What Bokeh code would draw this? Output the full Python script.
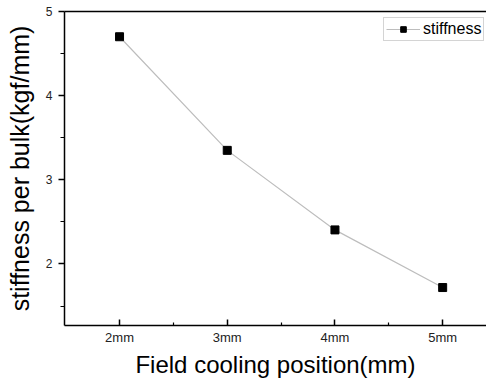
from bokeh.plotting import figure
from bokeh.models import FixedTicker, Range1d, Legend, LegendItem, LinearAxis
from bokeh.embed import file_html
from bokeh.resources import INLINE

positions = [2, 3, 4, 5]
tick_labels = ["2mm", "3mm", "4mm", "5mm"]
stiffness = [4.70, 3.35, 2.405, 1.72]

FONT = "Liberation Sans"

p = figure(width=486, height=380, output_backend="svg", toolbar_location=None,
           x_range=Range1d(1.489, 5.407), y_range=Range1d(1.269, 5.0),
           min_border_left=64, min_border_right=0, min_border_top=11, min_border_bottom=54)
p.background_fill_color = "white"
p.border_fill_color = "white"
p.xgrid.visible = False
p.ygrid.visible = False
p.outline_line_color = None

ln = p.line(positions, stiffness, line_color="#bdbdbd", line_width=1.2)
mk = p.scatter(positions, stiffness, marker="square", size=8, fill_color="black", line_color="black")

xa = p.below[0]
ya = p.left[0]

# x axis
xa.ticker = FixedTicker(ticks=positions, minor_ticks=[2.5, 3.5, 4.5])
xa.major_label_overrides = {pos: lab for pos, lab in zip(positions, tick_labels)}
xa.major_tick_in = 6
xa.major_tick_out = 0
xa.minor_tick_in = 3
xa.minor_tick_out = 0
xa.axis_line_width = 1.5
xa.major_tick_line_width = 1.5
xa.minor_tick_line_width = 1.2
xa.major_label_text_font = FONT
xa.major_label_text_font_size = "13px"
xa.major_label_text_color = "#222222"
xa.major_label_standoff = 4
xa.axis_label = "Field cooling position(mm)"
xa.axis_label_text_font = FONT
xa.axis_label_text_font_size = "24px"
xa.axis_label_text_font_style = "normal"
xa.axis_label_text_color = "black"
xa.axis_label_standoff = 3

# y axis
ya.ticker = FixedTicker(ticks=[2, 3, 4, 5], minor_ticks=[1.5, 2.5, 3.5, 4.5])
ya.major_tick_in = 0
ya.major_tick_out = 6
ya.minor_tick_in = 0
ya.minor_tick_out = 4
ya.axis_line_width = 1.5
ya.major_tick_line_width = 1.5
ya.minor_tick_line_width = 1.2
ya.major_label_text_font = FONT
ya.major_label_text_font_size = "12px"
ya.major_label_text_color = "#222222"
ya.major_label_standoff = 6
ya.axis_label = "stiffness per bulk(kgf/mm)"
ya.axis_label_text_font = FONT
ya.axis_label_text_font_size = "25px"
ya.axis_label_text_font_style = "normal"
ya.axis_label_text_color = "black"
ya.axis_label_standoff = 9

# top border as an empty axis
top = LinearAxis(ticker=FixedTicker(ticks=[]), axis_line_width=1.5,
                 major_label_text_font_size="0px", major_tick_line_color=None,
                 minor_tick_line_color=None, major_tick_in=0, major_tick_out=0,
                 minor_tick_in=0, minor_tick_out=0, major_label_standoff=0)
p.add_layout(top, "above")

legend = Legend(items=[LegendItem(label="stiffness", renderers=[ln, mk])],
                location=(319, 284))
legend.label_text_font = FONT
legend.label_text_font_size = "16px"
legend.label_text_color = "black"
legend.border_line_color = "#aaaaaa"
legend.border_line_width = 1
legend.padding = 2
legend.margin = 0
legend.spacing = 0
legend.glyph_width = 34
legend.glyph_height = 14
legend.label_standoff = 3
legend.label_height = 14
legend.background_fill_alpha = 1.0
p.add_layout(legend, "center")

open("out.html", "w").write(file_html(p, INLINE))
